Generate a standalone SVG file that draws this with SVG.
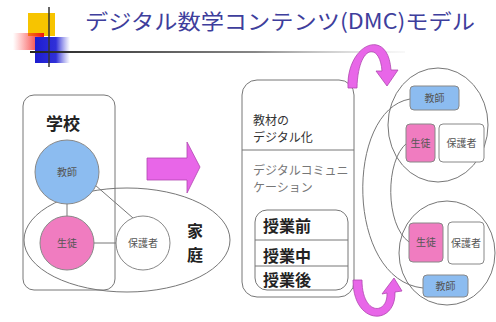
<svg xmlns="http://www.w3.org/2000/svg" width="496" height="322" viewBox="0 0 496 322">
<defs>
<style>
text{font-family:"Noto Sans CJK JP","Noto Sans",sans-serif;}
.title{font-size:21px;fill:#3e3e9c;}
.big{font-size:17px;fill:#222;font-weight:bold;}
.fam{font-size:16px;fill:#222;font-weight:bold;}
.sm{font-size:10px;fill:#555;text-anchor:middle;}
.mid{font-size:12px;fill:#333;}
.gray{font-size:12px;fill:#777;}
.bold{font-size:16px;fill:#222;font-weight:bold;}
.box{fill:#fff;stroke:#777;stroke-width:1;}
.ln{fill:none;stroke:#777;stroke-width:1;}
.blue{fill:#8cbcf0;stroke:#888;stroke-width:1;}
.pink{fill:#f07cc0;stroke:#888;stroke-width:1;}
.white{fill:#fff;stroke:#888;stroke-width:1;}
.mag{fill:#e866e8;stroke:#b048b0;stroke-width:0.8;}
</style>
<linearGradient id="rule" x1="0" x2="1" y1="0" y2="0">
<stop offset="0" stop-color="#222"/>
<stop offset="0.6" stop-color="#888"/>
<stop offset="1" stop-color="#eee" stop-opacity="0.4"/>
</linearGradient>
<linearGradient id="red" x1="0" x2="1" y1="0" y2="0">
<stop offset="0" stop-color="#ff3030" stop-opacity="0"/>
<stop offset="1" stop-color="#ee1010"/>
</linearGradient>
<linearGradient id="blu" x1="0" x2="1" y1="0" y2="0">
<stop offset="0" stop-color="#1c1cd0"/>
<stop offset="0.6" stop-color="#3030d8"/>
<stop offset="1" stop-color="#6060e0" stop-opacity="0"/>
</linearGradient>
</defs>
<rect width="496" height="322" fill="#fff"/>

<g id="logo">
<rect x="28" y="13" width="27" height="23" fill="#f7c400"/>
<rect x="13" y="33" width="31" height="17" fill="url(#red)"/>
<rect x="35" y="37" width="35" height="26" fill="url(#blu)"/>
<line x1="49" y1="7" x2="49" y2="67" stroke="#333" stroke-width="1.5"/>
<rect x="30" y="51" width="375" height="2" fill="url(#rule)"/>
</g>
<g id="title">
<text class="title" x="85" y="29" textLength="390" lengthAdjust="spacingAndGlyphs">デジタル数学コンテンツ(DMC)モデル</text>
</g>

<g id="school">
<rect class="box" x="23" y="95" width="92" height="195" rx="11"/>
<text class="big" x="46" y="130">学校</text>
</g>
<g id="family">
<ellipse class="ln" cx="127" cy="240" rx="103" ry="52"/>
<text class="fam" x="187" y="237">家</text>
<text class="fam" x="187" y="261">庭</text>
</g>

<g id="connectors-left">
<line class="ln" x1="67" y1="200" x2="67" y2="218"/>
<line class="ln" x1="92" y1="243" x2="118" y2="243"/>
<line class="ln" x1="95" y1="185" x2="133" y2="218"/>
</g>

<g id="teacher">
<circle class="blue" cx="67" cy="172" r="32"/>
<text class="sm" x="67" y="176">教師</text>
</g>
<g id="student">
<circle class="pink" cx="67" cy="243" r="27"/>
<text class="sm" x="67" y="247">生徒</text>
</g>
<g id="guardian">
<circle class="white" cx="143" cy="243" r="27"/>
<text class="sm" x="143" y="247">保護者</text>
</g>

<g id="big-arrow">
<polygon class="mag" points="147,158 187,158 187,142 200,167 187,193 187,180 147,180"/>
</g>

<g id="dmc">
<rect class="box" x="242" y="80" width="112" height="217" rx="15"/>
<line class="ln" x1="242" y1="150" x2="354" y2="150"/>
<text class="mid" x="253" y="125">教材の</text>
<text class="mid" x="253" y="142">デジタル化</text>
<text class="gray" x="253" y="175">デジタルコミュニ</text>
<text class="gray" x="253" y="192">ケーション</text>
</g>
<g id="lessons">
<rect class="box" x="255" y="210" width="93" height="80" rx="12"/>
<line class="ln" x1="255" y1="240" x2="348" y2="240"/>
<line class="ln" x1="255" y1="266" x2="348" y2="266"/>
<text class="bold" x="263" y="232">授業前</text>
<text class="bold" x="263" y="262">授業中</text>
<text class="bold" x="263" y="286">授業後</text>
</g>

<g id="cycle-arrows">
<path class="mag" d="M 348 88 C 346 44, 388 26, 391 70 L 398 70 L 387 86 L 376 71 L 382 71 C 380 42, 358 44, 357 88 Z"/>
<path class="mag" d="M 353 280 C 353 326, 396 326, 395 292 L 402 291 L 394 278 L 382 294 L 387 293 C 388 315, 362 316, 362 280 Z"/>
</g>

<g id="group-top">
<ellipse class="ln" cx="438" cy="125" rx="50" ry="57"/>
</g>
<g id="group-bottom">
<ellipse class="ln" cx="447" cy="253" rx="48" ry="52"/>
</g>

<g id="connectors-right">
<path class="ln" d="M 410 99 C 345 110, 345 280, 423 288"/>
<path class="ln" d="M 407 143 C 385 160, 385 225, 409 242"/>
</g>

<g id="teacher-top">
<rect class="blue" x="410" y="86" width="49" height="24" rx="4"/>
<text class="sm" x="434.5" y="102">教師</text>
</g>
<g id="student-top">
<rect class="pink" x="406" y="124" width="29" height="38" rx="4"/>
<text class="sm" x="420.5" y="147">生徒</text>
</g>
<g id="guardian-top">
<rect class="white" x="439" y="124" width="45" height="38" rx="4"/>
<text class="sm" x="461.5" y="147">保護者</text>
</g>
<g id="student-bottom">
<rect class="pink" x="409" y="223" width="34" height="39" rx="4"/>
<text class="sm" x="426" y="246">生徒</text>
</g>
<g id="guardian-bottom">
<rect class="white" x="448" y="222" width="36" height="42" rx="4"/>
<text class="sm" x="466" y="247">保護者</text>
</g>
<g id="teacher-bottom">
<rect class="blue" x="423" y="275" width="45" height="22" rx="4"/>
<text class="sm" x="445.5" y="290">教師</text>
</g>
</svg>
